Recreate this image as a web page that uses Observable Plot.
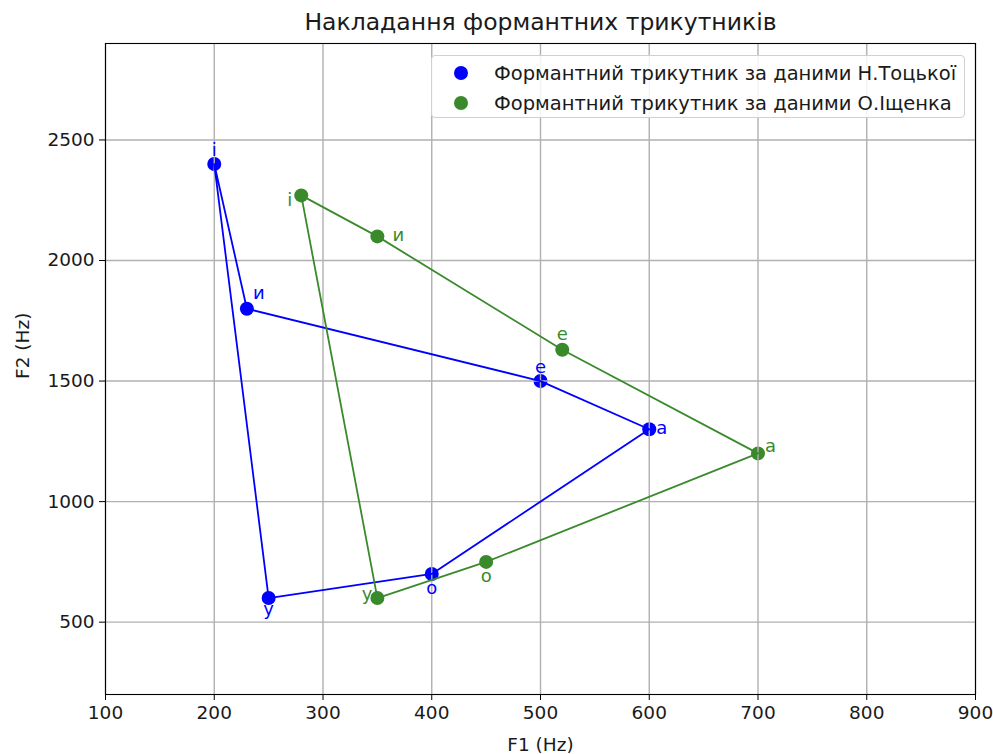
<!DOCTYPE html>
<html>
<head>
<meta charset="utf-8">
<script src="https://cdn.jsdelivr.net/npm/d3@7"></script>
<script src="https://cdn.jsdelivr.net/npm/@observablehq/plot@0.6"></script>
<style>
  body { margin: 0; background: #fff; font-family: "DejaVu Sans", sans-serif; }
  #wrap { position: relative; width: 993px; height: 754px; }
  #legend {
    position: absolute; left: 431px; top: 55px; width: 534px; height: 63px;
    border: 1px solid #d0d0d0; border-radius: 4px; background: rgba(255,255,255,0.85);
    box-sizing: border-box; font-size: 19.5px; color: #1a1a1a;
  }
  .lg-row { position: absolute; left: 0; height: 30px; display: flex; align-items: center; white-space: nowrap; }
  .lg-dot { width: 14px; height: 14px; border-radius: 50%; margin-left: 22px; margin-right: 26px; }
</style>
</head>
<body>
<div id="wrap"></div>
<script>
// ---- data ----
const vowels = ["і", "и", "е", "а", "о", "у"];
const tockaF1 = [200, 230, 500, 600, 400, 250];
const tockaF2 = [2400, 1800, 1500, 1300, 700, 600];
const ishchenkoF1 = [280, 350, 520, 700, 450, 350];
const ishchenkoF2 = [2270, 2100, 1630, 1200, 750, 600];
const seriesNames = ["Формантний трикутник за даними Н.Тоцької", "Формантний трикутник за даними О.Іщенка"];
const xTicks = [100, 200, 300, 400, 500, 600, 700, 800, 900];
const yTicks = [500, 1000, 1500, 2000, 2500];

// ---- layout / style ----
const colors = ["#0000ff", "#3a8a2c"];
// label offsets [dx, dy, anchor] per vowel, per series
const labelOffsets = [
  [[0, -14, "middle"], [6, -15, "start"], [0, -14, "middle"], [7, -1, "start"], [0, 14, "middle"], [0, 11, "middle"]],
  [[-9, 5, "end"], [15, -1, "start"], [0, -15, "middle"], [7, -7, "start"], [0, 14, "middle"], [-5, -4, "end"]]
];

const series = [
  {name: seriesNames[0], f1: tockaF1, f2: tockaF2},
  {name: seriesNames[1], f1: ishchenkoF1, f2: ishchenkoF2}
].map((s, k) => ({
  ...s,
  color: colors[k],
  rows: vowels.map((v, i) => ({vowel: v, f1: s.f1[i], f2: s.f2[i]}))
}));

const marks = [];
// dots first (under grid, like the reference)
series.forEach(s => marks.push(Plot.dot(s.rows, {x: "f1", y: "f2", r: 7, fill: s.color, stroke: "none"})));
// grid
marks.push(Plot.gridX(xTicks, {stroke: "#b0b0b0", strokeOpacity: 1, strokeWidth: 1.4}));
marks.push(Plot.gridY(yTicks, {stroke: "#b0b0b0", strokeOpacity: 1, strokeWidth: 1.4}));
// closed polygons
series.forEach(s => marks.push(Plot.line([...s.rows, s.rows[0]], {x: "f1", y: "f2", stroke: s.color, strokeWidth: 1.8})));
// vowel labels
series.forEach((s, k) => s.rows.forEach((r, i) => {
  const [dx, dy, anchor] = labelOffsets[k][i];
  marks.push(Plot.text([r], {x: "f1", y: "f2", text: "vowel", fill: s.color, fontSize: 18, dx, dy, textAnchor: anchor}));
}));
// frame & axes
marks.push(Plot.frame({stroke: "#000", strokeWidth: 1.1}));
marks.push(Plot.axisX(xTicks, {tickSize: 6, tickPadding: 5, fontSize: 18.5, label: null, stroke: "#000", fill: "#1a1a1a", tickFormat: d => String(d)}));
marks.push(Plot.axisY(yTicks, {tickSize: 6, tickPadding: 5, fontSize: 18.5, label: null, stroke: "#000", fill: "#1a1a1a", tickFormat: d => String(d)}));
// titles
marks.push(Plot.text(["Накладання формантних трикутників"], {frameAnchor: "top", dy: -21, fontSize: 23.5, fill: "#1a1a1a", lineAnchor: "middle"}));
marks.push(Plot.text(["F1 (Hz)"], {frameAnchor: "bottom", dy: 51, fontSize: 18.5, fill: "#1a1a1a", lineAnchor: "middle"}));
marks.push(Plot.text(["F2 (Hz)"], {frameAnchor: "left", dx: -82, dy: 10, rotate: -90, fontSize: 18.5, fill: "#1a1a1a", lineAnchor: "middle"}));

const chart = Plot.plot({
  width: 993, height: 754,
  marginLeft: 105, marginRight: 18, marginTop: 43, marginBottom: 60,
  style: {fontFamily: "DejaVu Sans", background: "#fff"},
  x: {domain: [100, 900]},
  y: {domain: [200, 2900]},
  marks
});
const wrap = document.getElementById("wrap");
wrap.appendChild(chart);

// legend
const legend = document.createElement("div");
legend.id = "legend";
series.forEach((s, k) => {
  const row = document.createElement("div");
  row.className = "lg-row";
  row.style.top = (2 + k * 30) + "px";
  const dot = document.createElement("div");
  dot.className = "lg-dot";
  dot.style.background = s.color;
  const label = document.createElement("span");
  label.textContent = s.name;
  row.appendChild(dot); row.appendChild(label);
  legend.appendChild(row);
});
wrap.appendChild(legend);
</script>
</body>
</html>
